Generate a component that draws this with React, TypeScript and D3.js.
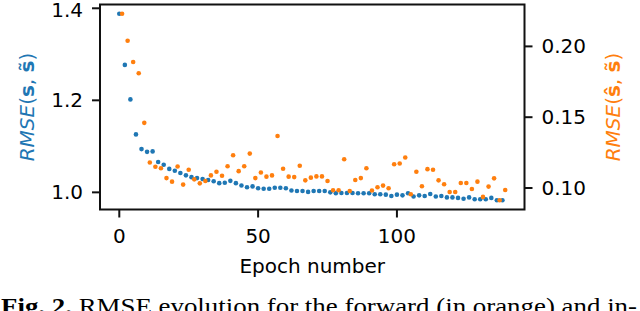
import * as d3 from 'd3'
import { useEffect, useRef } from 'react'

// epochs: blue (inverse) on even epochs, orange (forward) on odd epochs
const inverseEpochs = d3.range(0, 139, 2)
const forwardEpochs = d3.range(1, 140, 2)

const inverseRmse = [
  1.388, 1.277, 1.202, 1.126, 1.094, 1.088, 1.089, 1.066, 1.060, 1.051,
  1.047, 1.042, 1.037, 1.033, 1.031, 1.029, 1.027, 1.024, 1.020, 1.021,
  1.025, 1.020, 1.015, 1.011, 1.013, 1.009, 1.008, 1.008, 1.010, 1.010,
  1.009, 1.004, 1.003, 1.003, 1.001, 1.003, 1.003, 1.003, 1.000, 0.998,
  0.9985, 0.9985, 0.9985, 0.998, 0.998, 0.998, 0.996, 0.996, 0.995, 0.992,
  0.995, 0.9935, 0.998, 0.991, 0.9935, 0.992, 0.9964, 0.991, 0.992, 0.989,
  0.989, 0.988, 0.986, 0.989, 0.985, 0.985, 0.985, 0.988, 0.983, 0.983,
]

const forwardRmse = [
  0.223, 0.204, 0.189, 0.181, 0.146, 0.118, 0.115, 0.114, 0.107, 0.1045,
  0.1152, 0.1024, 0.1129, 0.1061, 0.1033, 0.1049, 0.1089, 0.1115, 0.1087, 0.1154,
  0.1231, 0.1119, 0.1154, 0.1243, 0.1070, 0.1110, 0.1080, 0.1089, 0.1367, 0.1136,
  0.1080, 0.1077, 0.1157, 0.1054, 0.1073, 0.1082, 0.1082, 0.1049, 0.0984, 0.0984,
  0.1203, 0.0979, 0.1056, 0.1070, 0.1140, 0.0982, 0.1005, 0.1017, 0.0998, 0.1168,
  0.1173, 0.1215, 0.0956, 0.1115, 0.1012, 0.1133, 0.1129, 0.1054, 0.1026, 0.0972,
  0.0972, 0.1035, 0.1035, 0.0993, 0.1045, 0.0937, 0.1010, 0.1068, 0.0914, 0.0986,
]

const xTicks = [0, 50, 100]
const leftTicks = [1.0, 1.2, 1.4]
const rightTicks = [0.10, 0.15, 0.20]

const BLUE = '#1f77b4'
const ORANGE = '#ff7f0e'

// matplotlib style auto limits (5% margins)
const padded = (vals: number[]): [number, number] => {
  const [lo, hi] = d3.extent(vals) as [number, number]
  const m = (hi - lo) * 0.05
  return [lo - m, hi + m]
}

export default function App() {
  const ref = useRef<SVGSVGElement>(null)

  useEffect(() => {
    if (!ref.current) return
    document.body.style.margin = '0'

    const width = 640
    const height = 311
    const left = 100
    const right = 524.5
    const top = 4.5
    const bottom = 209.5
    const font = 'DejaVu Sans, sans-serif'

    const x = d3.scaleLinear()
      .domain(padded([...inverseEpochs, ...forwardEpochs]))
      .range([left, right])
    const yL = d3.scaleLinear().domain(padded(inverseRmse)).range([bottom, top])
    const yR = d3.scaleLinear().domain(padded(forwardRmse)).range([bottom, top])

    const svg = d3.select(ref.current)
      .attr('width', width)
      .attr('height', height)
      .style('display', 'block')
      .append('g')

    svg.append('rect')
      .attr('width', width).attr('height', height).attr('fill', '#fff')

    // points
    svg.append('g').selectAll('circle')
      .data(inverseEpochs)
      .enter()
      .append('circle')
      .attr('cx', d => x(d))
      .attr('cy', (_d, i) => yL(inverseRmse[i]))
      .attr('r', 2.3)
      .attr('fill', BLUE)

    svg.append('g').selectAll('circle')
      .data(forwardEpochs)
      .enter()
      .append('circle')
      .attr('cx', d => x(d))
      .attr('cy', (_d, i) => yR(forwardRmse[i]))
      .attr('r', 2.3)
      .attr('fill', ORANGE)

    // frame
    svg.append('rect')
      .attr('x', left).attr('y', top)
      .attr('width', right - left).attr('height', bottom - top)
      .attr('fill', 'none').attr('stroke', '#111').attr('stroke-width', 2)

    const tickLen = 8
    const fs = 20

    // x axis
    const xg = svg.append('g')
    xTicks.forEach(t => {
      xg.append('line')
        .attr('x1', x(t)).attr('x2', x(t))
        .attr('y1', bottom).attr('y2', bottom + tickLen)
        .attr('stroke', '#111').attr('stroke-width', 2)
      xg.append('text')
        .attr('x', x(t)).attr('y', 243)
        .attr('text-anchor', 'middle')
        .attr('font-family', font).attr('font-size', fs)
        .text(t)
    })
    xg.append('text')
      .attr('x', (left + right) / 2).attr('y', 273)
      .attr('text-anchor', 'middle')
      .attr('font-family', font).attr('font-size', fs)
      .text('Epoch number')

    // left axis
    const lg = svg.append('g')
    leftTicks.forEach(t => {
      lg.append('line')
        .attr('x1', left - tickLen).attr('x2', left)
        .attr('y1', yL(t)).attr('y2', yL(t))
        .attr('stroke', '#111').attr('stroke-width', 2)
      lg.append('text')
        .attr('x', left - 17).attr('y', Math.max(yL(t), 10))
        .attr('text-anchor', 'end').attr('dominant-baseline', 'central')
        .attr('font-family', font).attr('font-size', fs)
        .text(t.toFixed(1))
    })

    // right axis
    const rg = svg.append('g')
    rightTicks.forEach(t => {
      rg.append('line')
        .attr('x1', right).attr('x2', right + tickLen)
        .attr('y1', yR(t)).attr('y2', yR(t))
        .attr('stroke', '#111').attr('stroke-width', 2)
      rg.append('text')
        .attr('x', right + 17).attr('y', yR(t))
        .attr('dominant-baseline', 'central')
        .attr('font-family', font).attr('font-size', fs)
        .text(t.toFixed(2))
    })

    const yLabel = (cx: number, color: string, first: string) => {
      const t = svg.append('text')
        .attr('transform', `translate(${cx},${(top + bottom) / 2}) rotate(-90)`)
        .attr('text-anchor', 'middle')
        .attr('dominant-baseline', 'central')
        .attr('font-family', font).attr('font-size', fs)
        .attr('fill', color)
      t.append('tspan').attr('font-style', 'italic').text('RMSE')
      t.append('tspan').text('(')
      t.append('tspan').attr('font-weight', 'bold').text(first)
      t.append('tspan').text(', ')
      t.append('tspan').attr('font-weight', 'bold').text('s\u0303')
      t.append('tspan').text(')')
    }
    yLabel(27, BLUE, 's')
    yLabel(613, ORANGE, '\u015D')

    // caption (cut at the bottom edge, as in the source figure)
    const cap = svg.append('text')
      .attr('x', 1).attr('y', 314)
      .attr('font-family', 'Liberation Serif, Times New Roman, serif')
      .attr('font-size', 24)
      .attr('textLength', 636)
      .attr('lengthAdjust', 'spacingAndGlyphs')
    cap.append('tspan').attr('font-weight', 'bold').text('Fig. 2.')
    cap.append('tspan').text('  RMSE evolution for the forward (in orange) and in-')

    return () => {
      svg.remove()
    }
  }, [])

  return <svg ref={ref} />
}
